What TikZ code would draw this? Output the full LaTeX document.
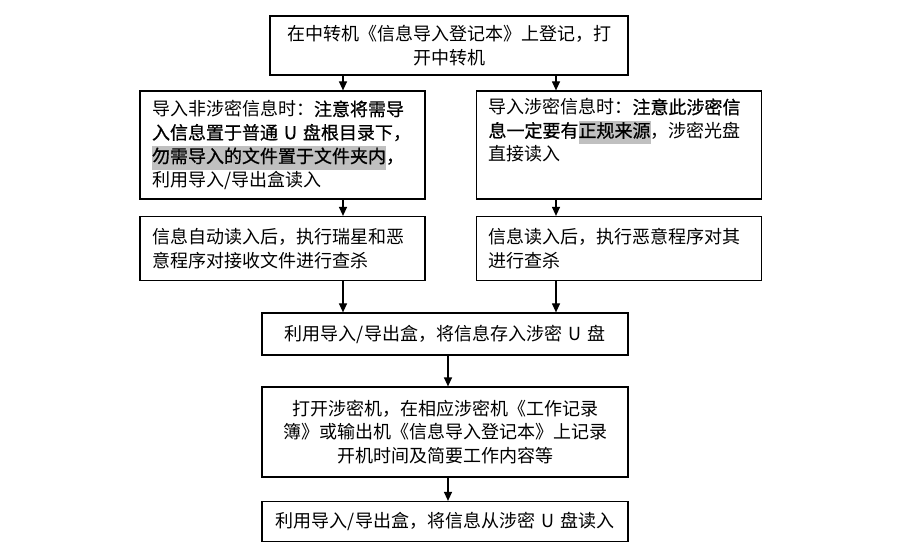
\documentclass[tikz,border=0pt]{standalone}
\usepackage{fontspec}
\setmainfont{Noto Sans CJK SC}
\newfontfamily\boldcjk[FakeBold=0.8]{Noto Sans CJK SC}
\usetikzlibrary{arrows.meta}
\definecolor{hlgray}{RGB}{192,192,192}
\newcommand{\hlgr}[1]{{\setlength{\fboxsep}{0pt}\colorbox{hlgray}{\strut #1}}}
\newcommand{\bfc}[1]{{\boldcjk #1}}
\tikzstyle{flowbox}=[draw, line width=1.2pt, inner xsep=12pt, inner ysep=0pt, font=\fontsize{18}{23.5}\selectfont]
\tikzstyle{sidebox}=[flowbox, text width=261pt, align=left]
\tikzstyle{midbox}=[flowbox, text width=342pt, align=center]
\tikzstyle{flowarrow}=[line width=1.2pt, -{Triangle[length=9pt, width=8pt]}]
\begin{document}
\begin{tikzpicture}[x=1pt, y=-1pt]
  \useasboundingbox (0,0) rectangle (903,548);
  \coordinate (la) at (343,0);
  \coordinate (ra) at (556,0);
  \coordinate (ca) at (448,0);
  \node[flowbox, text width=334pt, align=center, minimum height=59pt] (start) at (449,45.5)
    {在中转机《信息导入登记本》上登记，打\\开中转机};
  \node[sidebox, minimum height=108pt] (plainin) at (282.5,145)
    {导入非涉密信息时：\bfc{注意将需导}\\
     \bfc{入信息置于普通 U 盘根目录下，}\\
     \hlgr{\bfc{勿需导入的文件置于文件夹内}}\bfc{，}\\
     利用导入/导出盒读入};
  \node[sidebox, minimum height=108pt] (secretin) at (619,145)
    {导入涉密信息时：\bfc{注意此涉密信}\\
     \bfc{息一定要有}\hlgr{\bfc{正规来源}}，涉密光盘\\
     直接读入\\ \strut};
  \node[sidebox, minimum height=64pt] (plainscan) at (282.5,248.5)
    {信息自动读入后，执行瑞星和恶\\意程序对接收文件进行查杀};
  \node[sidebox, minimum height=64pt] (secretscan) at (619,248.5)
    {信息读入后，执行恶意程序对其\\进行查杀};
  \node[midbox, minimum height=42pt] (store) at (445,334)
    {利用导入/导出盒，将信息存入涉密 U 盘};
  \node[midbox, minimum height=90pt] (record) at (445,432)
    {打开涉密机，在相应涉密机《工作记录\\簿》或输出机《信息导入登记本》上记录\\开机时间及简要工作内容等};
  \node[midbox, minimum height=40pt] (readout) at (445,521.5)
    {利用导入/导出盒，将信息从涉密 U 盘读入};
  \draw[flowarrow] (start.south -| la) -- (plainin.north -| la);
  \draw[flowarrow] (start.south -| ra) -- (secretin.north -| ra);
  \draw[flowarrow] (plainin.south -| la) -- (plainscan.north -| la);
  \draw[flowarrow] (secretin.south -| ra) -- (secretscan.north -| ra);
  \draw[flowarrow] (plainscan.south -| la) -- (store.north -| la);
  \draw[flowarrow] (secretscan.south -| ra) -- (store.north -| ra);
  \draw[flowarrow] (store.south -| ca) -- (record.north -| ca);
  \draw[flowarrow] (record.south -| ca) -- (readout.north -| ca);
\end{tikzpicture}
\end{document}
